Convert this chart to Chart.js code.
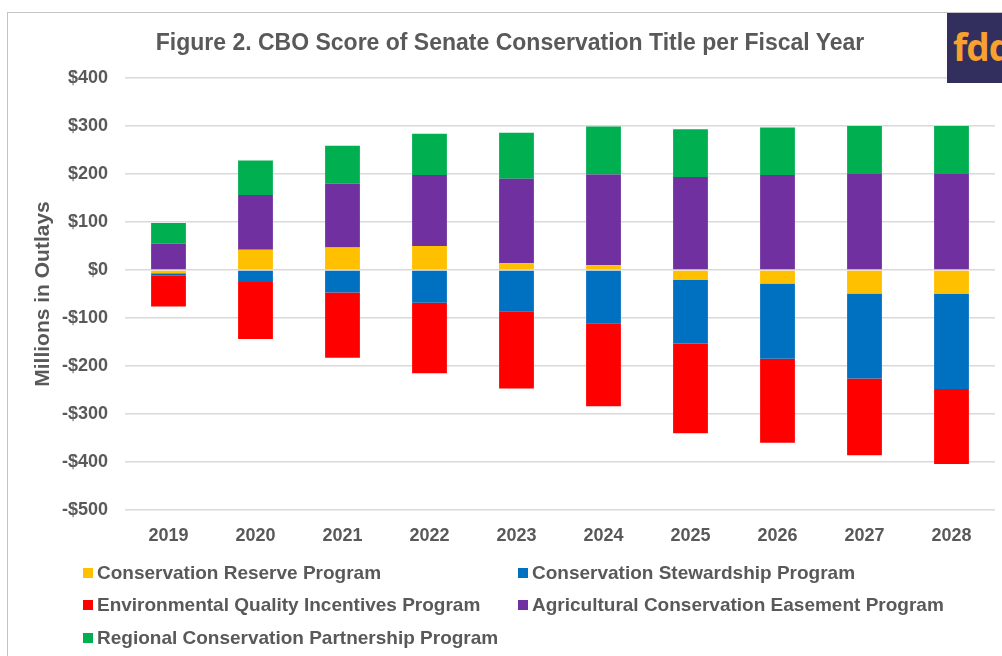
<!DOCTYPE html>
<html>
<head>
<meta charset="utf-8">
<script src="https://cdn.jsdelivr.net/npm/chart.js@4.4.1/dist/chart.umd.min.js"></script>
<style>
  html, body { margin: 0; padding: 0; background: #fff; overflow: hidden; }
  body { width: 1002px; height: 656px; position: relative; font-family: "Liberation Sans", Arial, sans-serif; }
  #frame { position: absolute; left: 7px; top: 12px; width: 1100px; height: 800px; border: 1.5px solid #c4c4c4; box-sizing: border-box; }
  #chart { position: absolute; left: 0; top: 0; }
  #title { position: absolute; left: 0; width: 1020px; top: 28px; text-align: center; font-weight: bold; font-size: 23px; line-height: 28px; color: #595959; }
  #logo { position: absolute; left: 947px; top: 13px; width: 70px; height: 70px; background: #322f5f; overflow: hidden; }
  #logo span { position: absolute; left: 6px; top: 14px; font-family: "Open Sans", Lato, sans-serif; font-weight: bold; font-size: 37px; line-height: 40px; color: #f7a12f; letter-spacing: -1px; }
  .lg { position: absolute; height: 22px; line-height: 22px; font-weight: bold; font-size: 19px; color: #595959; white-space: nowrap; }
  .lg i { position: absolute; width: 10px; height: 10px; top: 6px; }
  .lg b { position: absolute; left: 14px; top: 0; font-weight: bold; }
</style>
</head>
<body>
<div id="frame"></div>
<canvas id="chart" width="1002" height="656"></canvas>
<div id="title">Figure 2. CBO Score of Senate Conservation Title per Fiscal Year</div>
<div id="logo"><span>fdd</span></div>
<div id="legend"></div>
<script>
// Fiscal years
const years = ['2019', '2020', '2021', '2022', '2023', '2024', '2025', '2026', '2027', '2028'];

// Outlays by program, millions of dollars
const crp  = [-7, 42, 47, 50, 14, 10, -21, -28, -49, -50];          // Conservation Reserve Program
const csp  = [-5, -25, -47, -68, -86, -111, -132, -157, -177, -198]; // Conservation Stewardship Program
const eqip = [-64, -119, -136, -147, -161, -173, -187, -175, -160, -156]; // Environmental Quality Incentives Program
const acep = [55, 114, 133, 148, 176, 189, 194, 198, 200, 200];      // Agricultural Conservation Easement Program
const rcpp = [43, 72, 79, 86, 96, 100, 99, 99, 100, 100];            // Regional Conservation Partnership Program

const seriesNames = [
  'Conservation Reserve Program',
  'Conservation Stewardship Program',
  'Environmental Quality Incentives Program',
  'Agricultural Conservation Easement Program',
  'Regional Conservation Partnership Program'
];
const seriesData = [crp, csp, eqip, acep, rcpp];
const seriesColors = ['#ffc000', '#0070c0', '#ff0000', '#7030a0', '#00b050'];

// Axis range and tick step
const yMin = -500, yMax = 400, yStep = 100;

const textColor = '#595959';
const fontFamily = '"Liberation Sans", Arial, sans-serif';

const datasets = seriesNames.map((name, i) => ({
  label: name,
  data: seriesData[i],
  backgroundColor: seriesColors[i],
  borderWidth: 0
}));

new Chart(document.getElementById('chart'), {
  type: 'bar',
  data: { labels: years, datasets },
  options: {
    responsive: false,
    animation: false,
    devicePixelRatio: 1,
    layout: { padding: { top: 78, right: 7, bottom: 106, left: 0 } },
    datasets: { bar: { categoryPercentage: 1, barPercentage: 0.4 } },
    plugins: {
      legend: { display: false },
      title: { display: false },
      tooltip: { enabled: false }
    },
    scales: {
      x: {
        stacked: true,
        grid: { display: false },
        border: { display: false },
        ticks: { color: textColor, font: { family: fontFamily, size: 18, weight: 'bold' }, padding: 7 },
        afterFit: s => { s.height = 40; }
      },
      y: {
        stacked: true,
        min: yMin,
        max: yMax,
        grid: { color: '#d9d9d9', lineWidth: 1.5, drawTicks: false },
        border: { display: false },
        ticks: {
          stepSize: yStep,
          padding: 17,
          color: textColor,
          font: { family: fontFamily, size: 18, weight: 'bold' },
          callback: v => (v < 0 ? '-$' : '$') + Math.abs(v)
        },
        title: {
          display: true,
          text: 'Millions in Outlays',
          color: textColor,
          font: { family: fontFamily, size: 21, weight: 'bold' },
          padding: { top: 31, bottom: 0 }
        },
        afterFit: s => { s.width = 125; }
      }
    }
  }
});

// Two-column legend below the plot
const legendPos = [[83, 562], [518, 562], [83, 594], [518, 594], [83, 627]];
const legend = document.getElementById('legend');
seriesNames.forEach((name, i) => {
  const d = document.createElement('div');
  d.className = 'lg';
  d.style.left = legendPos[i][0] + 'px';
  d.style.top = legendPos[i][1] + 'px';
  const sw = document.createElement('i');
  sw.style.background = seriesColors[i];
  const t = document.createElement('b');
  t.textContent = name;
  d.appendChild(sw);
  d.appendChild(t);
  legend.appendChild(d);
});
</script>
</body>
</html>
